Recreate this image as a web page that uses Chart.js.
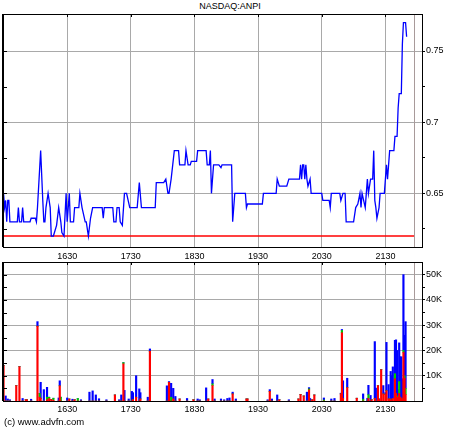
<!DOCTYPE html>
<html>
<head>
<meta charset="utf-8">
<script src="https://cdn.jsdelivr.net/npm/chart.js@4"></script>
<style>
body{margin:0;background:#fff;width:460px;height:430px;position:relative;overflow:hidden;font-family:"Liberation Sans",Arial,sans-serif;color:#000;}
#title{position:absolute;left:0;top:1px;width:460px;text-align:center;font-size:9px;}
#credit{position:absolute;left:4px;top:416px;font-size:9.5px;}
#price{position:absolute;left:0;top:0;}
#volume{position:absolute;left:0;top:255px;}
</style>
</head>
<body>
<div id="title">NASDAQ:ANPI</div>
<canvas id="price" width="460" height="262"></canvas>
<canvas id="volume" width="460" height="165"></canvas>
<div id="credit">(c) www.advfn.com</div>
<script>
// times are minutes after midnight
const priceTimes = [930,931,932,933,934,935,936,943,944,945,947,948,949,955,956,960,961,962,965,967,968,969,970,972,974,975,977,980,982,984,985,987,989,990,992,993,996,997,1001,1002,1004,1007,1008,1010,1012,1014,1022,1023,1024,1025,1033,1034,1036,1037,1039,1040,1042,1044,1046,1049,1056,1058,1060,1073,1074,1081,1083,1085,1086,1088,1091,1095,1096,1101,1102,1104,1106,1107,1112,1113,1121,1122,1124,1125,1126,1128,1133,1135,1136,1145,1146,1148,1158,1159,1160,1174,1175,1187,1188,1190,1197,1199,1209,1210,1211,1212,1213,1214,1215,1216,1217,1219,1220,1230,1231,1237,1238,1239,1247,1248,1250,1252,1253,1260,1262,1264,1266,1267,1268,1271,1273,1274,1276,1278,1279,1280,1281,1282,1284,1285,1289,1291,1292,1294,1298,1299,1301,1302,1303,1305,1306,1307,1309,1310];
const priceValues = [0.65,0.64,0.645,0.63,0.645,0.645,0.63,0.63,0.64,0.63,0.63,0.64,0.63,0.63,0.6325,0.6325,0.63,0.64,0.68,0.645,0.63,0.63,0.64,0.65,0.64,0.62,0.62,0.6275,0.64,0.63,0.6225,0.62,0.65,0.63,0.65,0.63,0.63,0.64,0.64,0.65,0.64,0.63,0.63,0.62,0.6325,0.64,0.64,0.64,0.6325,0.64,0.64,0.63,0.63,0.64,0.64,0.63,0.6275,0.65,0.65,0.64,0.64,0.6575,0.64,0.64,0.6575,0.6575,0.66,0.65,0.65,0.66,0.68,0.68,0.67,0.67,0.68,0.67,0.67,0.6725,0.6725,0.68,0.68,0.67,0.67,0.68,0.65,0.67,0.67,0.668,0.67,0.67,0.63,0.65,0.65,0.64,0.6425,0.6425,0.65,0.65,0.66,0.655,0.655,0.66,0.66,0.67,0.66,0.67,0.67,0.66,0.67,0.66,0.655,0.66,0.65,0.65,0.645,0.645,0.64,0.65,0.65,0.645,0.65,0.65,0.63,0.63,0.64,0.6425,0.65,0.64,0.65,0.64,0.66,0.65,0.66,0.66,0.68,0.645,0.64,0.6325,0.64,0.65,0.65,0.67,0.66,0.68,0.68,0.69,0.69,0.71,0.72,0.72,0.755,0.77,0.77,0.76];
const prevClose = 0.62;
const sessionEnd = 1317;

const volTimes = [930,932,934,936,942,945,948,951,952,956,962,964,965,968,971,973,975,977,982,983,984,990,992,995,997,1000,1003,1011,1014,1017,1020,1027,1035,1039,1041,1043,1044,1048,1051,1052,1055,1058,1059,1066,1068,1084,1086,1088,1090,1092,1096,1103,1109,1113,1115,1121,1123,1127,1129,1135,1138,1141,1143,1146,1149,1159,1160,1179,1181,1183,1188,1190,1199,1208,1210,1213,1216,1218,1219,1221,1223,1232,1239,1242,1248,1249,1250,1254,1263,1269,1273,1274,1276,1277,1280,1281,1283,1284,1286,1288,1290,1291,1293,1294,1295,1296,1297,1299,1300,1301,1302,1303,1304,1305,1306,1307,1308,1309];
const volRed = [14000,0,0,0,6100,13600,0,500,500,0,29600,1500,1000,0,500,1000,600,300,0,6000,0,0,800,0,500,0,0,0,0,0,0,0,2400,0,0,14700,0,0,0,500,1500,0,800,0,19700,0,7400,0,800,0,800,0,500,0,0,0,800,6100,0,0,0,0,0,2800,0,800,800,0,3800,0,0,500,0,800,2600,2000,0,4400,0,500,2400,0,0,0,2800,27000,1000,5300,1100,0,0,1000,0,500,1000,0,6100,600,12400,2800,2500,4100,800,800,500,0,1000,8800,3000,500,1500,3000,1500,500,1000,19300,9000,2500];
const volGreen = [0,0,0,0,0,0,0,0,0,0,0,1500,0,0,1000,500,0,800,0,0,1500,0,0,0,0,1000,0,0,0,0,0,0,0,0,0,500,0,0,0,0,0,0,0,0,0,0,0,1500,0,0,0,0,0,0,0,0,0,700,0,0,0,0,0,0,0,0,0,0,0,0,0,0,0,0,0,0,0,400,0,0,0,400,0,0,0,900,0,0,0,700,0,1500,0,0,0,0,0,0,0,0,0,0,0,0,0,0,0,2000,0,0,500,4700,0,0,0,700,1000,2500];
const volBlue = [0,2000,800,500,0,0,1000,0,0,700,1800,0,6400,4500,3900,0,0,0,1200,2000,0,1200,0,700,0,0,500,3500,4000,2400,900,500,0,500,2400,0,4200,800,3800,2800,8500,4800,2500,1500,900,6000,300,5500,4200,1800,0,1000,0,800,500,5200,0,1700,800,800,500,1000,1200,700,800,0,0,500,700,800,2400,0,500,0,0,0,3500,500,1000,0,0,800,800,1000,300,400,7000,3700,0,2100,1100,3700,2200,0,22500,5100,0,300,0,3300,800,19100,5700,0,11200,10000,12500,13200,21200,19500,2500,15300,16000,17000,7800,30000,16000,26400];

const timeTicks = [990,1050,1110,1170,1230,1290];
const priceTicks = [0.625,0.65,0.675,0.7,0.725,0.75];
const priceLabels = ['','0.65','','0.7','','0.75'];
const volTicks = [5000,10000,15000,20000,25000,30000,35000,40000,45000,50000];
const volLabels = ['','10K','','20K','','30K','','40K','','50K'];

const xMin = 929.5, xMax = 1324.5;
const gridColor = '#a9a9a9';
const fmtTime = m => String(Math.floor(m / 60)) + String(m % 60).padStart(2, '0');

Chart.defaults.font.family = '"Liberation Sans", Arial, sans-serif';
Chart.defaults.font.size = 9;
Chart.defaults.color = '#000';

// left/top border with small inward ticks + end-of-session line
const frame = {
    id: 'frame',
    beforeDatasetsDraw(chart) {
        const {ctx, chartArea: a, scales: {x}} = chart;
        const px = Math.round(x.getPixelForValue(sessionEnd)) + 0.5;
        ctx.save();
        ctx.strokeStyle = '#a89a9a';
        ctx.lineWidth = 1;
        ctx.beginPath();
        ctx.moveTo(px, a.top);
        ctx.lineTo(px, a.bottom);
        ctx.stroke();
        ctx.restore();
    },
    afterDraw(chart) {
        const {ctx, chartArea: a, scales: {x, y}} = chart;
        ctx.save();
        ctx.strokeStyle = '#000';
        ctx.lineWidth = 1;
        ctx.beginPath();
        ctx.moveTo(a.left, a.top + 0.5);
        ctx.lineTo(a.right, a.top + 0.5);
        y.ticks.forEach(t => {
            const py = Math.round(y.getPixelForValue(t.value)) + 0.5;
            ctx.moveTo(a.left, py);
            ctx.lineTo(a.left + 4, py);
        });
        x.ticks.forEach(t => {
            const px = Math.round(x.getPixelForValue(t.value)) + 0.5;
            ctx.moveTo(px, a.top);
            ctx.lineTo(px, a.top + 3);
        });
        ctx.stroke();
        ctx.lineWidth = 2;
        ctx.beginPath();
        ctx.moveTo(a.left, a.top);
        ctx.lineTo(a.left, a.bottom);
        ctx.stroke();
        ctx.restore();
    }
};

const xScale = (h, pad) => ({
    type: 'linear',
    min: xMin,
    max: xMax,
    offset: false,
    stacked: true,
    afterBuildTicks: s => { s.ticks = timeTicks.map(v => ({value: v})); },
    afterFit: s => { s.height = h; },
    ticks: {autoSkip: false, maxRotation: 0, padding: pad, callback: v => fmtTime(v)},
    grid: {color: gridColor, drawTicks: false, offset: false},
    border: {color: '#000'}
});

new Chart(document.getElementById('price'), {
    type: 'line',
    data: {
        datasets: [{
            data: priceTimes.map((t, i) => ({x: t, y: priceValues[i]})),
            borderColor: '#0000ff',
            borderWidth: 1.3,
            pointRadius: 0,
            tension: 0
        }, {
            data: [{x: xMin, y: prevClose}, {x: sessionEnd, y: prevClose}],
            borderColor: '#ff0000',
            borderWidth: 1.5,
            pointRadius: 0
        }]
    },
    options: {
        responsive: false,
        animation: false,
        layout: {padding: {left: 3, top: 14, right: 0, bottom: 0}},
        plugins: {legend: {display: false}, tooltip: {enabled: false}},
        scales: {
            x: xScale(15, 4),
            y: {
                position: 'right',
                min: 0.6123,
                max: 0.776,
                afterBuildTicks: s => { s.ticks = priceTicks.map(v => ({value: v})); },
                afterFit: s => { s.width = 38; },
                ticks: {padding: 1, callback: (v, i) => priceLabels[i]},
                grid: {
                    color: c => priceLabels[c.index] ? gridColor : 'rgba(0,0,0,0)',
                    tickColor: '#000',
                    tickLength: 3
                },
                border: {color: '#000'}
            }
        }
    },
    plugins: [frame]
});

const volSeries = (vals, color) => ({
    data: volTimes.map((t, i) => ({x: t, y: vals[i]})),
    backgroundColor: color,
    barThickness: 1.5,
    stack: 'v'
});

new Chart(document.getElementById('volume'), {
    type: 'bar',
    data: {
        datasets: [
            volSeries(volRed, '#ff0000'),
            volSeries(volGreen, '#00c800'),
            volSeries(volBlue, '#0000ff')
        ]
    },
    options: {
        responsive: false,
        animation: false,
        layout: {padding: {left: 3, top: 7, right: 0, bottom: 0}},
        plugins: {legend: {display: false}, tooltip: {enabled: false}},
        scales: {
            x: xScale(19, 3),
            y: {
                position: 'right',
                stacked: true,
                min: 0,
                max: 55000,
                afterBuildTicks: s => { s.ticks = volTicks.map(v => ({value: v})); },
                afterFit: s => { s.width = 38; },
                ticks: {padding: 1, callback: (v, i) => volLabels[i]},
                grid: {
                    color: c => volLabels[c.index] ? gridColor : 'rgba(0,0,0,0)',
                    tickColor: '#000',
                    tickLength: 3
                },
                border: {color: '#000'}
            }
        }
    },
    plugins: [frame]
});
</script>
</body>
</html>
